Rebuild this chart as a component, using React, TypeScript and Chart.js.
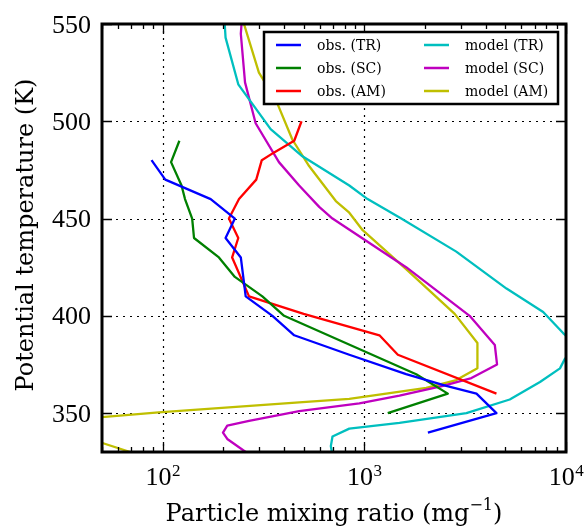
import React, { useEffect, useRef } from "react";
import { Chart, registerables } from "chart.js";

Chart.register(...registerables);

// ---------- data ----------
const xTickValues = [100, 1000, 10000];
const xTickExponents = ["2", "3", "4"];
const yTickValues = [350, 400, 450, 500, 550];

// obs. (TR)
const obsTR_T = [480, 470, 460, 450, 440, 430, 410, 400, 390, 380, 370, 364, 360, 350, 340];
const obsTR_N = [88, 103, 173, 228, 205, 244, 258, 350, 449, 842, 1611, 2546, 3598, 4520, 2066];

// obs. (SC)
const obsSC_T = [490, 479, 467, 460, 450, 440, 430, 420, 410, 400, 370, 360, 350];
const obsSC_N = [121, 110, 124, 129, 140, 143, 190, 228, 312, 400, 1808, 2594, 1306];

// obs. (AM)
const obsAM_T = [500, 490, 484, 480, 470, 460, 450, 440, 430, 410, 401, 390, 380, 360];
const obsAM_N = [488, 449, 357, 310, 291, 239, 213, 237, 221, 268, 500, 1188, 1466, 4520];

// model (TR)
const modTR_T = [550, 543, 519, 496, 482, 467, 460, 450, 433, 414, 402, 391, 384, 378, 373, 366, 357, 350, 345, 342, 338, 333, 330];
const modTR_N = [203, 205, 237, 343, 493, 842, 1038, 1524, 2857, 5070, 7706, 9700, 11500, 9890, 9333, 7430, 5260, 3206, 1493, 842, 695, 682, 690];

// model (SC)
const modSC_T = [550, 545, 520, 499, 479, 467, 456, 450, 425, 400, 385, 375, 368, 364, 359, 355, 351, 346, 343.5, 340, 336.7, 330];
const modSC_N = [246, 244, 256, 289, 377, 475, 597, 695, 1611, 3327, 4436, 4550, 3396, 2455, 1493, 944, 475, 268, 209, 199, 209, 258];

// model (AM)
const modAM_T = [550, 525, 511, 490.5, 477, 459, 453, 444, 424, 401, 386, 373, 367, 363, 360, 357.3, 355.5, 350.4, 347.8, 344, 335.3, 330];
const modAM_N = [253, 300, 364, 440, 532, 722, 842, 981, 1611, 2806, 3637, 3637, 2857, 2028, 1283, 842, 475, 95.5, 48, 22, 48, 69];

const seriesLabels = ["obs. (TR)", "obs. (SC)", "obs. (AM)", "model (TR)", "model (SC)", "model (AM)"];
const seriesColors = ["#0000ff", "#008000", "#ff0000", "#00bfbf", "#bf00bf", "#bfbf00"];
const seriesT = [obsTR_T, obsSC_T, obsAM_T, modTR_T, modSC_T, modAM_T];
const seriesN = [obsTR_N, obsSC_N, obsAM_N, modTR_N, modSC_N, modAM_N];

const xTitle = "Particle mixing ratio (mg";
const xTitleSup = "\u22121";
const yTitle = "Potential temperature (K)";

const NUM_FONT = "'Liberation Serif', serif";
const TXT_FONT = "'DejaVu Serif', serif";

const decor = {
  id: "decor",
  beforeDatasetsDraw(chart: any) {
    const { ctx, chartArea: a, scales } = chart;
    const x = scales.x, y = scales.y;
    ctx.save();
    ctx.strokeStyle = "#000";
    ctx.lineWidth = 1.2;
    ctx.setLineDash([2, 5]);
    for (const v of xTickValues) {
      const px = Math.round(x.getPixelForValue(v)) + 0.5;
      if (px <= a.left + 2 || px >= a.right - 2) continue;
      ctx.beginPath(); ctx.moveTo(px, a.top); ctx.lineTo(px, a.bottom); ctx.stroke();
    }
    for (const v of yTickValues) {
      const py = Math.round(y.getPixelForValue(v)) + 0.5;
      if (py <= a.top + 2 || py >= a.bottom - 2) continue;
      ctx.beginPath(); ctx.moveTo(a.left, py); ctx.lineTo(a.right, py); ctx.stroke();
    }
    ctx.restore();
  },
  afterDatasetsDraw(chart: any) {
    const { ctx, chartArea: a, scales } = chart;
    const x = scales.x, y = scales.y;
    ctx.save();
    ctx.setLineDash([]);
    ctx.strokeStyle = "#000";
    ctx.lineWidth = 1.3;
    // minor x ticks
    const minors: number[] = [];
    for (let d = 1; d <= 3; d++) for (let m = 2; m <= 9; m++) {
      const v = m * Math.pow(10, d);
      if (v >= 50 && v <= 10000) minors.push(v);
    }
    for (const v of minors) {
      const px = Math.round(x.getPixelForValue(v)) + 0.5;
      ctx.beginPath();
      ctx.moveTo(px, a.bottom); ctx.lineTo(px, a.bottom - 5);
      ctx.moveTo(px, a.top); ctx.lineTo(px, a.top + 5);
      ctx.stroke();
    }
    for (const v of xTickValues) {
      const px = Math.round(x.getPixelForValue(v)) + 0.5;
      ctx.beginPath();
      ctx.moveTo(px, a.bottom); ctx.lineTo(px, a.bottom - 10);
      ctx.moveTo(px, a.top); ctx.lineTo(px, a.top + 10);
      ctx.stroke();
    }
    for (const v of yTickValues) {
      const py = Math.round(y.getPixelForValue(v)) + 0.5;
      ctx.beginPath();
      ctx.moveTo(a.left, py); ctx.lineTo(a.left + 10, py);
      ctx.moveTo(a.right, py); ctx.lineTo(a.right - 10, py);
      ctx.stroke();
    }
    // frame
    ctx.lineWidth = 3;
    ctx.strokeRect(a.left, a.top, a.right - a.left, a.bottom - a.top);

    // legend
    const lx = 264, ly = 32, lw = 294, lh = 72;
    ctx.fillStyle = "#fff";
    ctx.fillRect(lx, ly, lw, lh);
    ctx.lineWidth = 2.5;
    ctx.strokeRect(lx, ly, lw, lh);
    const colLine = [276, 424];
    const colText = [317, 465];
    const rowY = [45, 68, 91];
    ctx.font = `14px ${TXT_FONT}`;
    ctx.textAlign = "left";
    ctx.textBaseline = "middle";
    for (let i = 0; i < seriesLabels.length; i++) {
      const c = Math.floor(i / 3), r = i % 3;
      ctx.strokeStyle = seriesColors[i];
      ctx.lineWidth = 2.5;
      ctx.beginPath();
      ctx.moveTo(colLine[c], rowY[r]); ctx.lineTo(colLine[c] + 25, rowY[r]);
      ctx.stroke();
      ctx.fillStyle = "#000";
      ctx.fillText(seriesLabels[i], colText[c], rowY[r] + 1);
    }

    // y tick labels
    ctx.fillStyle = "#000";
    ctx.font = `26px ${NUM_FONT}`;
    ctx.textAlign = "right";
    ctx.textBaseline = "alphabetic";
    for (const v of yTickValues) {
      const py = y.getPixelForValue(v);
      ctx.fillText(String(v), a.left - 11, py + 8.5);
    }
    // x tick labels
    for (let i = 0; i < xTickValues.length; i++) {
      const px = x.getPixelForValue(xTickValues[i]);
      ctx.font = `26px ${NUM_FONT}`;
      const w1 = ctx.measureText("10").width;
      ctx.font = `17px ${NUM_FONT}`;
      const w2 = ctx.measureText(xTickExponents[i]).width;
      const sx = px - (w1 + w2) / 2;
      ctx.textAlign = "left";
      ctx.font = `26px ${NUM_FONT}`;
      ctx.fillText("10", sx, 485);
      ctx.font = `17px ${NUM_FONT}`;
      ctx.fillText(xTickExponents[i], sx + w1 + 0.5, 476);
    }
    // x title
    ctx.font = `24px ${TXT_FONT}`;
    const t1 = ctx.measureText(xTitle).width;
    const t3 = ctx.measureText(")").width;
    ctx.font = `16px ${TXT_FONT}`;
    const t2 = ctx.measureText(xTitleSup).width;
    const cx = (a.left + a.right) / 2;
    let tx = cx - (t1 + t2 + t3) / 2;
    ctx.textAlign = "left";
    ctx.font = `24px ${TXT_FONT}`;
    ctx.fillText(xTitle, tx, 521);
    tx += t1;
    ctx.font = `16px ${TXT_FONT}`;
    ctx.fillText(xTitleSup, tx, 510);
    tx += t2;
    ctx.font = `24px ${TXT_FONT}`;
    ctx.fillText(")", tx, 521);
    // y title
    ctx.translate(33, 235);
    ctx.rotate(-Math.PI / 2);
    ctx.textAlign = "center";
    ctx.font = `24px ${TXT_FONT}`;
    ctx.fillText(yTitle, 0, 0);
    ctx.restore();
  },
};

export default function App() {
  const ref = useRef<HTMLCanvasElement | null>(null);
  useEffect(() => {
    if (!ref.current) return;
    const datasets = seriesLabels.map((label, i) => ({
      label,
      data: seriesN[i].map((n, j) => ({ x: n, y: seriesT[i][j] })),
      borderColor: seriesColors[i],
      backgroundColor: seriesColors[i],
      showLine: true,
      pointRadius: 0,
      borderWidth: 2.3,
      tension: 0,
      borderJoinStyle: "round" as const,
    }));
    const chart = new Chart(ref.current, {
      type: "scatter",
      data: { datasets },
      options: {
        animation: false,
        responsive: false,
        maintainAspectRatio: false,
        layout: { padding: { top: 24, right: 18, left: 0, bottom: 0 } },
        plugins: { legend: { display: false }, tooltip: { enabled: false } },
        scales: {
          x: {
            type: "logarithmic",
            min: 50,
            max: 10000,
            ticks: { display: false },
            grid: { display: false },
            border: { display: false },
            afterFit: (s: any) => { s.height = 76; },
          },
          y: {
            type: "linear",
            min: 330,
            max: 550,
            ticks: { display: false },
            grid: { display: false },
            border: { display: false },
            afterFit: (s: any) => { s.width = 102; },
          },
        },
      },
      plugins: [decor],
    });
    return () => chart.destroy();
  }, []);
  return (
    <div style={{ position: "absolute", left: 0, top: 0, width: 584, height: 528, background: "#fff" }}>
      <canvas ref={ref} width={584} height={528} style={{ display: "block", width: 584, height: 528 }} />
    </div>
  );
}
